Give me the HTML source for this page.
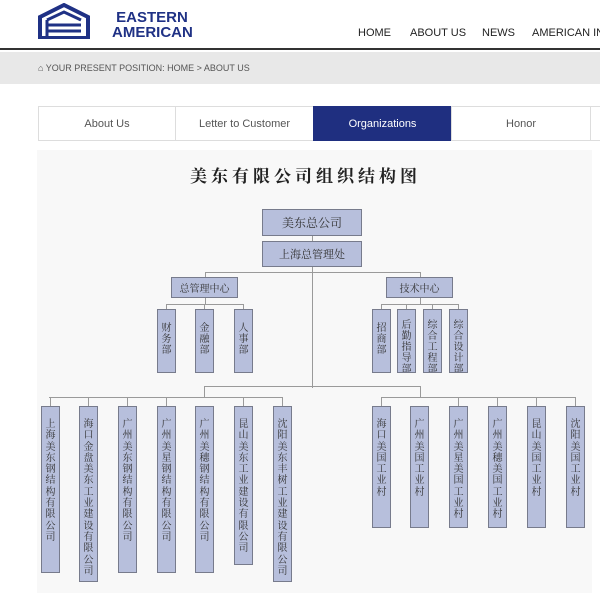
<!DOCTYPE html>
<html><head><meta charset="utf-8"><style>
*{margin:0;padding:0;box-sizing:border-box}
body{width:600px;height:593px;overflow:hidden;background:#fff;font-family:"Liberation Sans","Noto Sans CJK SC",sans-serif;position:relative}
.a{position:absolute}
.nav{font-size:11px;color:#222;top:27px}
.tab{position:absolute;top:106px;height:35px;border:1px solid #ddd;font-size:11px;color:#555;display:flex;align-items:center;justify-content:center}
.b{position:absolute;background:#b7bfdc;border:1px solid #777b8c;font-family:"Noto Serif CJK SC",serif;color:#333;display:flex;align-items:center;justify-content:center;font-size:11px}
.v{position:absolute;background:#b7bfdc;border:1px solid #777b8c;font-family:"Noto Serif CJK SC",serif;color:#333;font-size:10px;line-height:11.3px;text-align:center;padding-top:10px;width:19px;word-break:break-all;overflow:hidden}
.s{padding-top:8px;line-height:11px}
.h{position:absolute;height:1px;background:#9a9a9a}
.l{position:absolute;width:1px;background:#9a9a9a}
</style></head><body>
<svg class="a" style="left:38px;top:3px" width="52" height="36" viewBox="0 0 52 36">
<path d="M2 14 L26 2 L50 14 L50 35 L2 35 Z" fill="none" stroke="#1f3185" stroke-width="4"/>
<path d="M9 17 L26 9 L43 17 M9 22 H43 M9 28 H43 M9 17 V35" fill="none" stroke="#1f3185" stroke-width="3"/>
</svg>
<div class="a" style="left:112px;top:10px;font-weight:bold;color:#1f3185;font-size:15px;line-height:15px">&nbsp;EASTERN<br>AMERICAN</div>
<div class="a nav" style="left:358px">HOME</div>
<div class="a nav" style="left:410px">ABOUT US</div>
<div class="a nav" style="left:482px">NEWS</div>
<div class="a nav" style="left:532px;white-space:nowrap">AMERICAN IND</div>
<div class="a" style="left:0;top:48px;width:600px;height:2px;background:#333"></div>
<div class="a" style="left:0;top:52px;width:600px;height:32px;background:#e8e8e8"></div>
<div class="a" style="left:38px;top:63px;font-size:9px;color:#555">⌂ YOUR PRESENT POSITION: HOME &gt; ABOUT US</div>
<div class="tab" style="left:38px;width:138px">About Us</div>
<div class="tab" style="left:175px;width:139px">Letter to Customer</div>
<div class="tab" style="left:313px;width:139px;background:#1f2f80;color:#fff;border-color:#1f2f80">Organizations</div>
<div class="tab" style="left:451px;width:140px">Honor</div>
<div class="tab" style="left:590px;width:20px"></div>
<div class="a" style="left:37px;top:150px;width:555px;height:443px;background:#f8f8f8"></div>
<div class="a" style="left:190px;top:162px;font-family:'Noto Serif CJK SC',serif;font-weight:bold;font-size:17px;letter-spacing:4px;color:#222">美东有限公司组织结构图</div>

<div class="l" style="left:312px;top:235px;height:153px"></div>
<div class="b" style="left:262px;top:209px;width:100px;height:27px;font-size:12px">美东总公司</div>
<div class="b" style="left:262px;top:241px;width:100px;height:26px">上海总管理处</div>
<div class="h" style="left:205px;top:272px;width:215px"></div>
<div class="l" style="left:205px;top:272px;height:6px"></div>
<div class="l" style="left:420px;top:272px;height:6px"></div>
<div class="b" style="left:171px;top:277px;width:67px;height:21px;font-size:10px">总管理中心</div>
<div class="b" style="left:386px;top:277px;width:67px;height:21px;font-size:10px">技术中心</div>
<div class="l" style="left:205px;top:298px;height:6px"></div>
<div class="l" style="left:420px;top:298px;height:6px"></div>
<div class="h" style="left:166px;top:304px;width:78px"></div>
<div class="h" style="left:381px;top:304px;width:78px"></div>
<div class="l" style="left:166px;top:304px;height:5px"></div><div class="l" style="left:204px;top:304px;height:5px"></div><div class="l" style="left:243px;top:304px;height:5px"></div>
<div class="l" style="left:381px;top:304px;height:5px"></div><div class="l" style="left:406px;top:304px;height:5px"></div><div class="l" style="left:432px;top:304px;height:5px"></div><div class="l" style="left:458px;top:304px;height:5px"></div>
<div class="v s" style="left:157px;top:309px;height:64px;padding-top:11px">财务部</div>
<div class="v s" style="left:195px;top:309px;height:64px;padding-top:11px">金融部</div>
<div class="v s" style="left:234px;top:309px;height:64px;padding-top:11px">人事部</div>
<div class="v s" style="left:372px;top:309px;height:64px;padding-top:11px">招商部</div>
<div class="v s" style="left:397px;top:309px;height:64px">后勤指导部</div>
<div class="v s" style="left:423px;top:309px;height:64px">综合工程部</div>
<div class="v s" style="left:449px;top:309px;height:64px">综合设计部</div>

<div class="h" style="left:204px;top:386px;width:216px"></div>
<div class="l" style="left:204px;top:386px;height:11px"></div>
<div class="l" style="left:420px;top:386px;height:11px"></div>
<div class="h" style="left:49px;top:397px;width:234px"></div>
<div class="h" style="left:381px;top:397px;width:195px"></div>
<div class="l" style="left:50px;top:397px;height:9px"></div><div class="l" style="left:88px;top:397px;height:9px"></div><div class="l" style="left:127px;top:397px;height:9px"></div><div class="l" style="left:166px;top:397px;height:9px"></div><div class="l" style="left:243px;top:397px;height:9px"></div><div class="l" style="left:282px;top:397px;height:9px"></div>
<div class="l" style="left:381px;top:397px;height:9px"></div><div class="l" style="left:458px;top:397px;height:9px"></div><div class="l" style="left:497px;top:397px;height:9px"></div><div class="l" style="left:536px;top:397px;height:9px"></div><div class="l" style="left:575px;top:397px;height:9px"></div>
<div class="v" style="left:41px;top:406px;height:167px">上海美东钢结构有限公司</div>
<div class="v" style="left:79px;top:406px;height:176px">海口金盘美东工业建设有限公司</div>
<div class="v" style="left:118px;top:406px;height:167px">广州美东钢结构有限公司</div>
<div class="v" style="left:157px;top:406px;height:167px">广州美星钢结构有限公司</div>
<div class="v" style="left:195px;top:406px;height:167px">广州美穗钢结构有限公司</div>
<div class="v" style="left:234px;top:406px;height:159px">昆山美东工业建设有限公司</div>
<div class="v" style="left:273px;top:406px;height:176px">沈阳美东丰树工业建设有限公司</div>
<div class="v" style="left:372px;top:406px;height:122px">海口美国工业村</div>
<div class="v" style="left:410px;top:406px;height:122px">广州美国工业村</div>
<div class="v" style="left:449px;top:406px;height:122px">广州美星美国工业村</div>
<div class="v" style="left:488px;top:406px;height:122px">广州美穗美国工业村</div>
<div class="v" style="left:527px;top:406px;height:122px">昆山美国工业村</div>
<div class="v" style="left:566px;top:406px;height:122px">沈阳美国工业村</div>
</body></html>
